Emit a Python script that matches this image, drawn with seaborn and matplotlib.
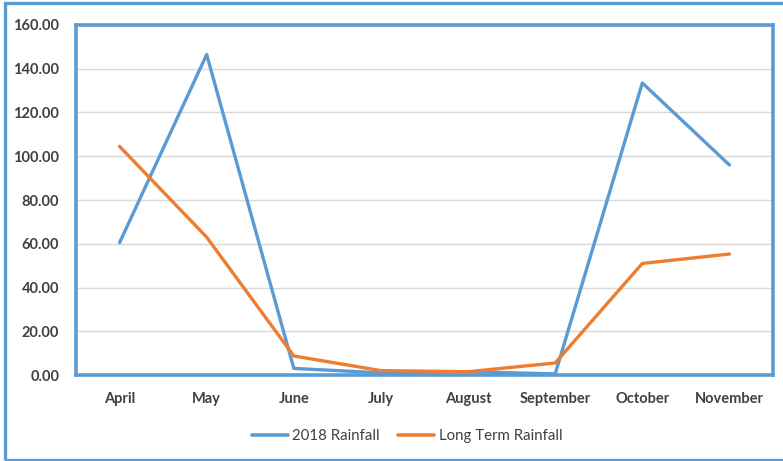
import matplotlib
matplotlib.use("Agg")
import matplotlib.pyplot as plt
import seaborn as sns
import pandas as pd
from matplotlib.patches import Rectangle

months = ["April", "May", "June", "July", "August", "September", "October", "November"]
rain_2018 = [60.5, 146.5, 3.0, 1.0, 1.5, 0.5, 133.5, 96.0]
rain_long = [104.5, 63.0, 8.7, 2.0, 1.5, 5.5, 51.0, 55.3]
series_names = ["2018 Rainfall", "Long Term Rainfall"]
y_ticks = [0, 20, 40, 60, 80, 100, 120, 140, 160]

df = pd.DataFrame({
    "Month": months * 2,
    "Rainfall": rain_2018 + rain_long,
    "Series": [series_names[0]] * len(months) + [series_names[1]] * len(months),
})

sns.set_theme(style="white")
plt.rcParams["font.family"] = ["Lato", "DejaVu Sans"]

fig = plt.figure(figsize=(7.83, 4.61), dpi=100)
ax = fig.add_axes([76 / 783, 1 - 375 / 461, (773 - 76) / 783, (375 - 25) / 461])

blue = "#5b9bd5"
orange = "#ed7d31"
sns.lineplot(data=df, x="Month", y="Rainfall", hue="Series", sort=False,
             palette=[blue, orange], linewidth=2.4, ax=ax, legend=True)

ax.set_xlim(-0.5, len(months) - 0.5)
ax.set_ylim(0, 160)
ax.set_yticks(y_ticks)
ax.set_yticklabels([f"{v:.2f}" for v in y_ticks])
ax.grid(axis="y", color="#d9d9d9", linewidth=1)
ax.set_axisbelow(True)
ax.set_xlabel("")
ax.set_ylabel("")
ax.tick_params(axis="both", length=0, labelsize=10.5, colors="#404040")
ax.tick_params(axis="y", pad=12)
ax.tick_params(axis="x", pad=12)
for lab in ax.get_xticklabels() + ax.get_yticklabels():
    lab.set_fontweight("bold")
for s in ax.spines.values():
    s.set_visible(True)
    s.set_color(blue)
    s.set_linewidth(2.6)

leg = ax.legend(loc="upper center", bbox_to_anchor=(0.475, -0.115), ncol=2,
                frameon=False, fontsize=10.8, handlelength=2.4, columnspacing=1.2,
                handletextpad=0.3)
for t in leg.get_texts():
    t.set_color("#404040")
for h in leg.get_lines():
    h.set_linewidth(2.6)

fig.patches.append(Rectangle((5 / 783, 1 / 461), 1.2, 457 / 461, transform=fig.transFigure,
                             fill=False, edgecolor=blue, linewidth=2.4))

fig.savefig("out.png", dpi=100)
